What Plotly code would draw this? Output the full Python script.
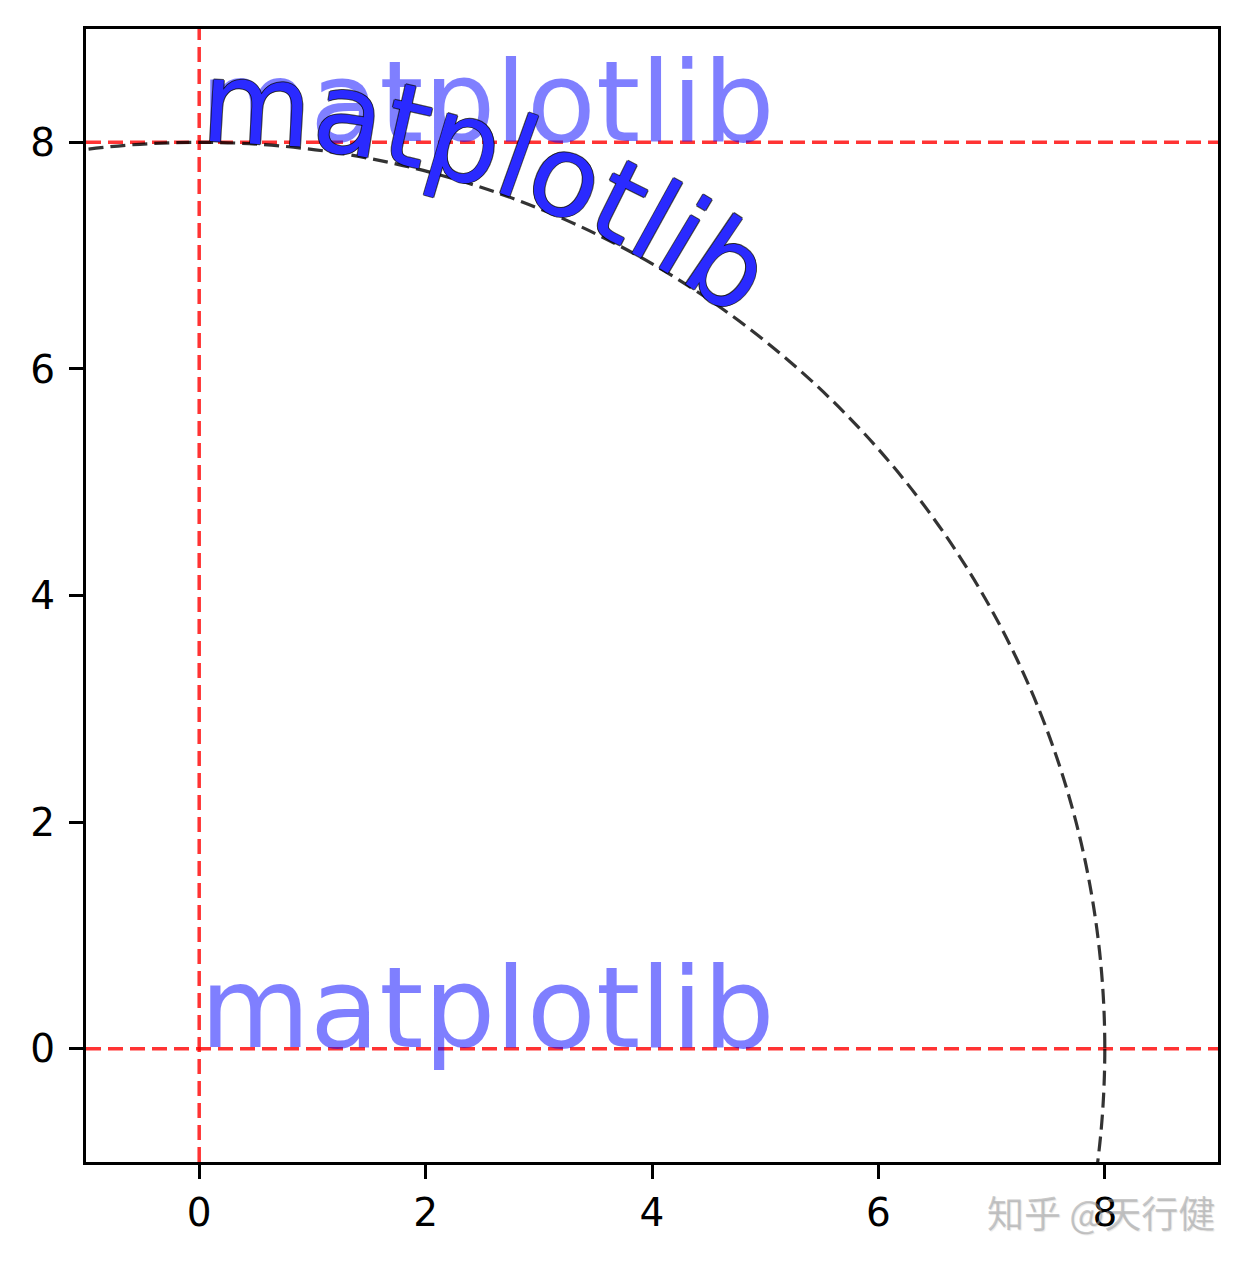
import math
import plotly.graph_objects as go

# ---- data ----
x_range = [-1, 9]
y_range = [-1, 9]
x_ticks = [0, 2, 4, 6, 8]
y_ticks = [0, 2, 4, 6, 8]
circle_radius = 8
h_lines = [0, 8]
v_lines = [0]
label_text = "matplotlib"
straight_label_x = [0, 0]
straight_label_y = [0, 8]
curve_start_angle_deg = 90  # text starts at top of circle, runs clockwise
watermark_text = "知乎 @天行健"

# ---- style / layout constants ----
# page body has an 8px margin, so the figure is sized to fit the 1248x1261 window
W, H = 1240, 1253
ML, MR, MT, MB = 78, 30, 21, 99
FONT = "DejaVu Sans"
FONT_PX = 113
# DejaVu Sans advance widths (em) and vertical metrics
ADV = {'m': 0.974, 'a': 0.613, 't': 0.392, 'p': 0.635, 'l': 0.278,
       'o': 0.612, 'i': 0.278, 'b': 0.635}
ASC, DESC = 0.928, 0.236

px_per_unit = (W - ML - MR) / (x_range[1] - x_range[0])

fig = go.Figure()

# reference lines
shapes = []
for yv in h_lines:
    shapes.append(dict(type="line", xref="x", yref="y", x0=x_range[0], x1=x_range[1],
                       y0=yv, y1=yv, line=dict(color="rgba(255,0,0,0.8)", width=3.5, dash="15px,7px")))
for xv in v_lines:
    shapes.append(dict(type="line", xref="x", yref="y", x0=xv, x1=xv,
                       y0=y_range[0], y1=y_range[1], line=dict(color="rgba(255,0,0,0.8)", width=3.5, dash="15px,7px")))
# circle
shapes.append(dict(type="circle", xref="x", yref="y",
                   x0=-circle_radius, y0=-circle_radius, x1=circle_radius, y1=circle_radius,
                   line=dict(color="rgba(0,0,0,0.8)", width=3.2, dash="15px,7px")))

annotations = []
# straight faded labels
for xv, yv in zip(straight_label_x, straight_label_y):
    annotations.append(dict(x=xv, y=yv, xref="x", yref="y", text=label_text, showarrow=False,
                            xanchor="left", yanchor="bottom", yshift=-DESC * FONT_PX, borderpad=0,
                            font=dict(family=FONT, size=FONT_PX, color="rgba(0,0,255,0.5)",
                                      shadow="none")))

# curved label along the circle
outline = ", ".join(f"{dx}px {dy}px 0 rgba(0,0,0,0.7)" for dx, dy in
                    [(1, 0), (-1, 0), (0, 1), (0, -1)])
h_center = (ASC - DESC) / 2 * FONT_PX / px_per_unit
s = 0.0
for ch in label_text:
    w = ADV[ch] * FONT_PX / px_per_unit
    sc = s + w / 2
    theta = sc / circle_radius
    phi = math.radians(curve_start_angle_deg) - theta
    r = circle_radius + h_center
    annotations.append(dict(x=r * math.cos(phi), y=r * math.sin(phi), xref="x", yref="y",
                            text=ch, showarrow=False, xanchor="center", yanchor="middle",
                            textangle=math.degrees(theta), borderpad=0,
                            font=dict(family=FONT, size=FONT_PX, color="#2a2aff", shadow=outline)))
    s += w

# watermark
annotations.append(dict(x=0.897, y=-0.044, xref="paper", yref="paper", text=watermark_text,
                        showarrow=False, xanchor="center", yanchor="middle",
                        font=dict(family="Noto Sans CJK SC", size=37, color="rgba(150,150,150,0.5)",
                                  shadow="1px 1px 1px rgba(0,0,0,0.2)")))

axis_common = dict(showgrid=False, zeroline=False, showline=True, mirror=True,
                   linecolor="black", linewidth=3, ticks="outside", ticklen=14, tickwidth=3,
                   tickcolor="black", tickfont=dict(family=FONT, size=39, color="black"))

fig.update_layout(
    width=W, height=H, margin=dict(l=ML, r=MR, t=MT, b=MB),
    paper_bgcolor="white", plot_bgcolor="white", showlegend=False,
    shapes=shapes, annotations=annotations,
    xaxis=dict(range=x_range, tickvals=x_ticks, ticktext=[str(v) for v in x_ticks],
               ticklabelstandoff=0, **axis_common),
    yaxis=dict(range=y_range, tickvals=y_ticks, ticktext=[str(v) for v in y_ticks],
               ticklabelstandoff=6, **axis_common),
)

fig.write_html("out.html")
